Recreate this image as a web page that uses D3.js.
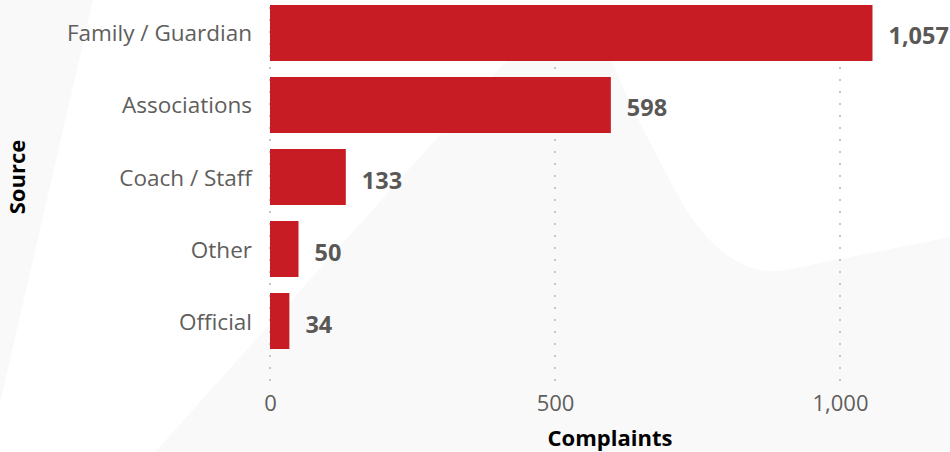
<!DOCTYPE html>
<html>
<head>
<meta charset="utf-8">
<script src="https://cdn.jsdelivr.net/npm/d3@7"></script>
<style>
  html, body { margin: 0; padding: 0; background: #ffffff; }
  svg { display: block; }
  text { font-family: "Open Sans", "Noto Sans", sans-serif; }
</style>
</head>
<body>
<script>
// ---- data ----
const categories = ["Family / Guardian", "Associations", "Coach / Staff", "Other", "Official"];
const complaints = [1057, 598, 133, 50, 34];
const xTicks = [0, 500, 1000];
const xTitle = "Complaints";
const yTitle = "Source";

// ---- layout ----
const W = 950, H = 452;
const plot = { left: 270, right: 950, top: -3, bottom: 357, gridBottom: 381 };

const svg = d3.select("body").append("svg").attr("width", W).attr("height", H);

// decorative background shapes
svg.append("rect").attr("width", W).attr("height", H).attr("fill", "#ffffff");
svg.append("path").attr("d", "M0,0 L93,0 L0,403 Z").attr("fill", "#f9f9f9");
svg.append("path")
  .attr("d", "M155,452 L545,18 Q572,-12 597,28 L633,110 L675,190 Q720,275 780,271 L950,237 L950,452 Z")
  .attr("fill", "#f9f9f9");

const x = d3.scaleLinear().domain([0, 1000]).range([plot.left, 840]);
const y = d3.scaleBand().domain(categories).range([plot.top, plot.bottom])
  .paddingInner(0.2222).paddingOuter(0.111);

// gridlines (dotted)
svg.append("g").selectAll("line").data(xTicks).join("line")
  .attr("x1", d => x(d)).attr("x2", d => x(d))
  .attr("y1", plot.gridBottom).attr("y2", 0)
  .attr("stroke", "#c8c6c4").attr("stroke-width", 2)
  .attr("stroke-dasharray", "2,10");

// bars
svg.append("g").selectAll("rect").data(categories).join("rect")
  .attr("x", x(0))
  .attr("y", d => y(d))
  .attr("width", (d, i) => x(complaints[i]) - x(0))
  .attr("height", y.bandwidth())
  .attr("fill", "#c81c24");

// value labels
svg.append("g").selectAll("text").data(categories).join("text")
  .attr("x", (d, i) => x(complaints[i]) + 16)
  .attr("y", d => y(d) + y.bandwidth() / 2 + 11.5)
  .attr("font-size", 23.5).attr("font-weight", 700)
  .attr("fill", "#5a5856")
  .text((d, i) => d3.format(",")(complaints[i]));

// category axis labels
const yAxis = d3.axisLeft(y).tickSize(0).tickPadding(18);
const gy = svg.append("g").attr("transform", `translate(${plot.left},0)`).call(yAxis);
gy.select(".domain").remove();
gy.selectAll("text")
  .attr("font-size", 22.5).attr("fill", "#605e5c")
  .attr("font-family", "Open Sans, Noto Sans, sans-serif")
  .attr("dy", null).attr("dominant-baseline", "central").attr("y", 0);

// x axis tick labels
const xAxis = d3.axisBottom(x).tickValues(xTicks).tickSize(0).tickPadding(0).tickFormat(d3.format(","));
const gx = svg.append("g").attr("transform", "translate(0,411)").call(xAxis);
gx.select(".domain").remove();
gx.selectAll("text")
  .attr("font-size", 22).attr("fill", "#605e5c")
  .attr("font-family", "Open Sans, Noto Sans, sans-serif")
  .attr("dy", null).attr("y", 0);

// axis titles
svg.append("text")
  .attr("x", (plot.left + plot.right) / 2).attr("y", 446)
  .attr("text-anchor", "middle").attr("font-size", 22).attr("font-weight", 700)
  .attr("fill", "#000000").text(xTitle);

svg.append("text")
  .attr("transform", `translate(25,${(plot.top + plot.bottom) / 2}) rotate(-90)`)
  .attr("text-anchor", "middle").attr("font-size", 22).attr("font-weight", 700)
  .attr("fill", "#000000").text(yTitle);
</script>
</body>
</html>
